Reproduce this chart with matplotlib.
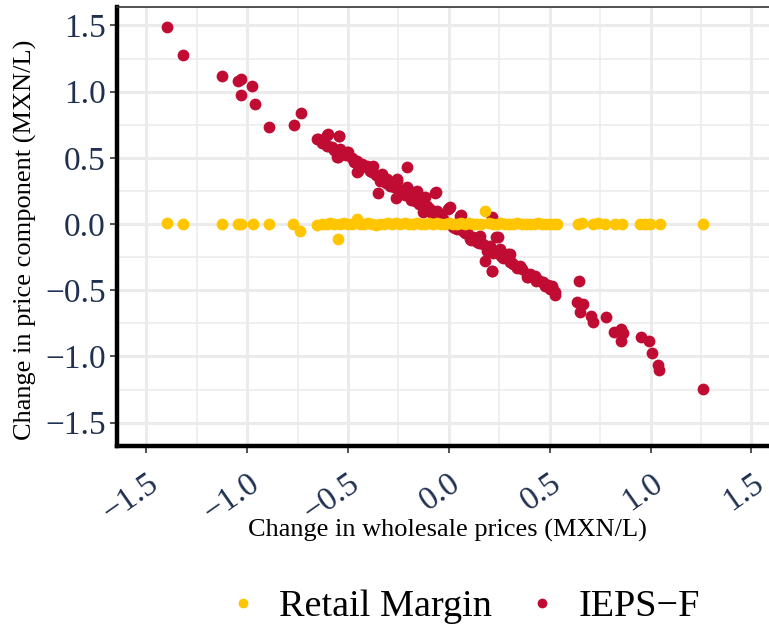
import matplotlib
matplotlib.use("Agg")
import matplotlib.pyplot as plt
from matplotlib.lines import Line2D
from matplotlib.ticker import MultipleLocator

# ---- data ----
ieps_x = [-1.40, -1.32, -1.124, -1.048, -1.033, -0.975, -1.031, -0.962, -0.891, -0.770,
          -0.735, -0.653, -0.648, -0.606, -0.598, -0.606, -0.598, -0.545, -0.544, -0.540,
          -0.557, -0.552, -0.504, -0.499, -0.466, -0.458, -0.455, -0.450, -0.425, -0.408,
          -0.375, -0.383, -0.350, -0.342, -0.334, -0.309, -0.292, -0.293, -0.264, -0.259,
          -0.259, -0.210, -0.210, -0.202, -0.193, -0.177, -0.169, -0.160, -0.135, -0.127,
          -0.127, -0.119, -0.111, -0.094, -0.069, -0.064, -0.061, -0.045, -0.003, 0.005,
          0.002, 0.038, 0.055, 0.058, 0.088, 0.104, 0.137, 0.154, 0.178, 0.203,
          0.212, 0.212, 0.215, 0.236, 0.245, 0.253, 0.253, 0.294, 0.302, 0.302,
          0.352, 0.352, 0.385, 0.385, 0.426, 0.426, 0.468, 0.476, 0.509, 0.509,
          0.526, 0.526, 0.645, 0.633, 0.666, 0.650, 0.707, 0.716, 0.778, 0.820,
          0.851, 0.861, 0.851, 0.950, 0.992, 1.008, 1.035, 1.043, 1.261,
          -0.62, -0.58, -0.52, -0.48, -0.43, -0.40, -0.36, -0.32, -0.28, -0.24,
          -0.22, -0.18, -0.15, -0.10, -0.08, -0.03, 0.02, 0.07, 0.12, 0.17,
          0.19, 0.27, 0.32, 0.36, 0.40, 0.44, 0.49,
          -0.63, -0.57, -0.51, -0.47, -0.44, -0.39, -0.35, -0.31, -0.27, -0.23,
          -0.19, -0.14, -0.09, -0.05, 0.03, 0.08, 0.11, 0.15, 0.22, 0.26,
          0.31, 0.34, 0.39, 0.43, 0.46, 0.50]
ieps_y = [1.487, 1.280, 1.120, 1.083, 1.096, 1.043, 0.973, 0.907, 0.733, 0.751,
          0.837, 0.640, 0.642, 0.673, 0.680, 0.592, 0.592, 0.667, 0.668, 0.567,
          0.504, 0.504, 0.547, 0.542, 0.479, 0.479, 0.395, 0.403, 0.441, 0.441,
          0.441, 0.391, 0.234, 0.327, 0.378, 0.340, 0.315, 0.289, 0.194, 0.327,
          0.340, 0.428, 0.277, 0.265, 0.227, 0.214, 0.176, 0.252, 0.176, 0.088,
          0.189, 0.202, 0.138, 0.113, 0.234, 0.240, 0.101, 0.063, 0.113, 0.126,
          0.119, -0.038, 0.063, 0.068, -0.063, -0.113, -0.139, -0.088, -0.277, -0.164,
          0.050, -0.353, -0.358, -0.101, -0.101, -0.189, -0.202, -0.227, -0.227, -0.290,
          -0.315, -0.328, -0.403, -0.378, -0.391, -0.403, -0.441, -0.466, -0.471, -0.479,
          -0.537, -0.516, -0.428, -0.592, -0.605, -0.668, -0.693, -0.743, -0.705, -0.814,
          -0.794, -0.826, -0.887, -0.857, -0.882, -0.975, -1.066, -1.101, -1.247,
          0.63, 0.58, 0.53, 0.50, 0.45, 0.42, 0.37, 0.33, 0.30, 0.26,
          0.22, 0.20, 0.15, 0.10, 0.07, 0.04, -0.02, -0.05, -0.10, -0.15,
          -0.20, -0.26, -0.30, -0.34, -0.38, -0.42, -0.46,
          0.61, 0.56, 0.52, 0.47, 0.44, 0.40, 0.36, 0.31, 0.28, 0.24,
          0.18, 0.16, 0.09, 0.05, -0.03, -0.07, -0.12, -0.14, -0.22, -0.24,
          -0.29, -0.33, -0.40, -0.43, -0.44, -0.49]

margin_x = [-1.397, -1.320, -1.124, -1.045, -1.030, -0.970, -0.891, -0.772, -0.739, -0.656,
            -0.630, -0.606, -0.590, -0.570, -0.549, -0.540, -0.520, -0.500, -0.480, -0.458,
            -0.440, -0.420, -0.400, -0.380, -0.360, -0.340, -0.320, -0.300, -0.280, -0.260,
            -0.240, -0.220, -0.200, -0.180, -0.160, -0.140, -0.120, -0.100, -0.080, -0.060,
            -0.040, -0.020, 0.000, 0.020, 0.040, 0.060, 0.080, 0.100, 0.120, 0.140,
            0.160, 0.178, 0.200, 0.220, 0.240, 0.260, 0.280, 0.300, 0.320, 0.340,
            0.360, 0.380, 0.400, 0.420, 0.440, 0.460, 0.480, 0.500, 0.520, 0.535,
            0.640, 0.660, 0.714, 0.740, 0.773, 0.823, 0.856, 0.947, 0.970, 0.997,
            1.046, 1.261]
margin_y = [0.010, 0.000, 0.000, 0.000, 0.000, 0.000, 0.000, 0.000, -0.050, -0.010,
            0.000, 0.000, 0.005, 0.000, -0.113, 0.000, 0.005, 0.000, 0.000, 0.038,
            0.000, 0.000, 0.010, 0.000, -0.005, 0.000, 0.000, 0.005, 0.000, 0.010,
            0.000, 0.005, 0.000, 0.000, 0.010, 0.000, 0.000, 0.005, 0.000, 0.010,
            0.000, 0.000, 0.005, 0.000, 0.000, 0.005, 0.000, 0.010, 0.000, 0.000,
            0.000, 0.100, 0.005, 0.000, 0.000, 0.005, 0.000, 0.000, 0.000, 0.005,
            0.000, 0.000, 0.000, 0.000, 0.005, 0.000, 0.000, 0.000, 0.000, 0.000,
            0.000, 0.005, 0.000, 0.010, 0.000, 0.000, 0.000, 0.000, 0.000, 0.000,
            0.000, 0.000]

series_labels = ["Retail Margin", "IEPS\u2212F"]
colors = ["#FFC500", "#C00B33"]
x_label = "Change in wholesale prices (MXN/L)"
y_label = "Change in price component (MXN/L)"

# ---- figure ----
plt.rcParams['font.family'] = ['Liberation Serif', 'DejaVu Serif']
fig = plt.figure(figsize=(7.69, 6.27), dpi=100)
ax = fig.add_axes([0.152, 0.289, 0.848, 0.700])

ax.scatter(ieps_x, ieps_y, s=72, color=colors[1], linewidths=0, zorder=3)
ax.scatter(margin_x, margin_y, s=72, color=colors[0], linewidths=0, zorder=4)

ax.set_xlim(-1.646, 1.587)
ax.set_ylim(-1.675, 1.64)
ax.xaxis.set_major_locator(MultipleLocator(0.5))
ax.yaxis.set_major_locator(MultipleLocator(0.5))
ax.xaxis.set_minor_locator(MultipleLocator(0.25))
ax.yaxis.set_minor_locator(MultipleLocator(0.25))
ax.grid(which='major', color='#EBEBEB', linewidth=2.2, zorder=0)
ax.grid(which='minor', color='#EBEBEB', linewidth=1.1, zorder=0)
ax.set_axisbelow(True)
ax.tick_params(which='minor', length=0)
ax.tick_params(which='major', length=5, width=1.2, color='#333333',
               labelsize=24, labelcolor='#1F3050')
ax.tick_params(axis='x', pad=11)
ax.tick_params(axis='y', pad=3)

ax.xaxis.set_major_formatter(matplotlib.ticker.FuncFormatter(
    lambda v, p: f"{v:.1f}".replace("-", "\u2212")))
ax.yaxis.set_major_formatter(matplotlib.ticker.FuncFormatter(
    lambda v, p: f"{v:.1f}".replace("-", "\u2212")))
for lab in ax.get_xticklabels():
    lab.set_rotation(35)
    lab.set_ha('right')
    lab.set_va('top')
    lab.set_rotation_mode('anchor')

for side in ['left', 'bottom']:
    ax.spines[side].set_linewidth(3.2)
    ax.spines[side].set_color('black')
ax.spines['right'].set_visible(False)
ax.spines['top'].set_linewidth(1.2)
ax.spines['top'].set_color('#333333')

ax.set_xlabel(x_label, fontsize=19)
ax.xaxis.set_label_coords(0.507, -0.167)
ax.set_ylabel(y_label, fontsize=19)
ax.yaxis.set_label_coords(-0.122, 0.47)

handles = [Line2D([], [], marker='o', linestyle='', markersize=6, color=c) for c in colors]
fig.legend(handles, series_labels, loc='center', bbox_to_anchor=(0.603, 0.032), ncol=2,
           frameon=False, fontsize=27.5, handlelength=0.8, handletextpad=0.55,
           columnspacing=0.92)

fig.savefig("out.png", dpi=100)
